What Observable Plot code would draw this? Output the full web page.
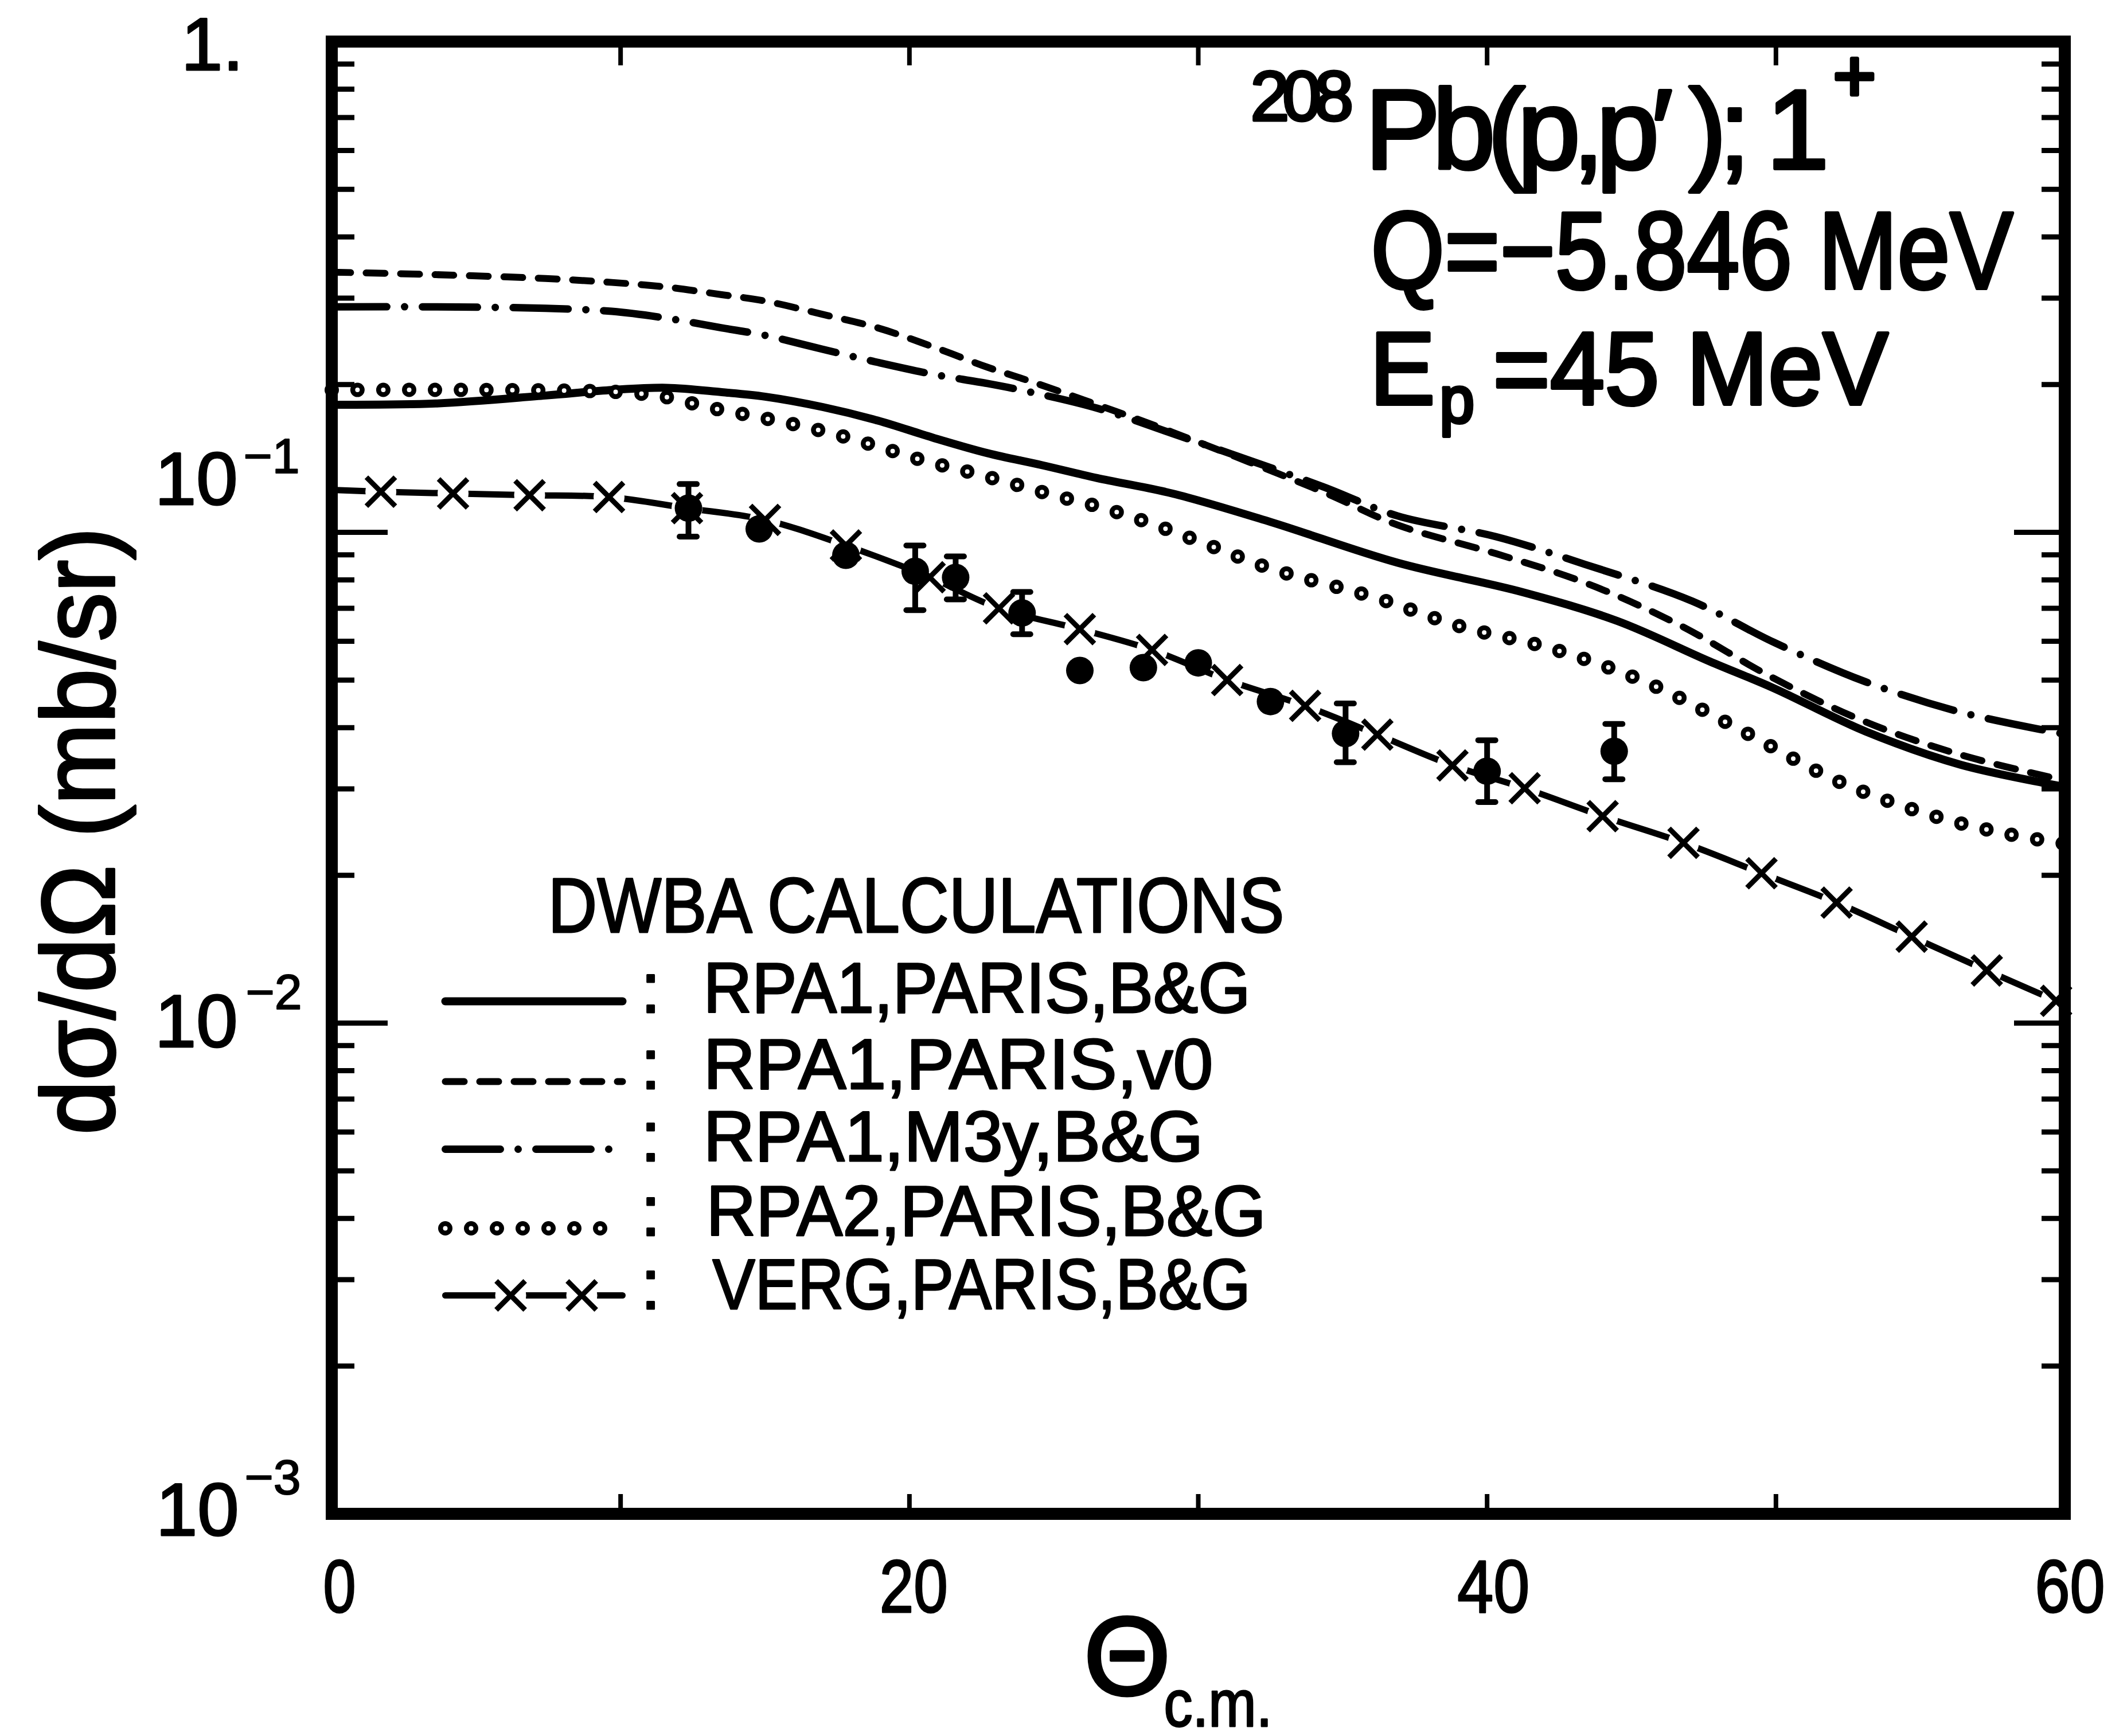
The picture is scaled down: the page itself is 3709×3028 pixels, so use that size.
<!DOCTYPE html>
<html>
<head>
<meta charset="utf-8">
<script src="https://cdn.jsdelivr.net/npm/d3@7"></script>
<script src="https://cdn.jsdelivr.net/npm/@observablehq/plot@0.6"></script>
<style>
  html, body { margin: 0; padding: 0; background: #fff; }
  #chart svg { display: block; }
</style>
</head>
<body>
<div id="chart"></div>
<script>
// ---------------- data ----------------
// RPA1, PARIS, B&G  (solid)
const thetaRPA1Paris = [0, 3.6, 7.4, 9.7, 11.6, 13.5, 15.0, 17.0, 18.9, 20.8, 22.7, 24.6, 26.5, 29.1, 32.5, 36.9, 41.2, 44.5, 47.7, 49.9, 53.1, 56.4, 60];
const sigmaRPA1Paris = [0.182, 0.183, 0.190, 0.195, 0.197, 0.193, 0.189, 0.180, 0.169, 0.156, 0.145, 0.137, 0.129, 0.120, 0.105, 0.0867, 0.0756, 0.066, 0.0546, 0.0482, 0.0393, 0.0336, 0.0303];
// RPA1, PARIS, v0  (dashed)
const thetaRPA1V0 = [0, 3.6, 7.4, 9.7, 11.6, 13.5, 15.0, 17.0, 18.9, 20.8, 22.7, 24.2, 26.5, 29.1, 34.3, 36.9, 40.3, 43.4, 46.6, 49.9, 53.1, 56.4, 60];
const sigmaRPA1V0 = [0.339, 0.335, 0.329, 0.323, 0.316, 0.305, 0.296, 0.278, 0.261, 0.239, 0.217, 0.203, 0.182, 0.160, 0.121, 0.1035, 0.0905, 0.0789, 0.065, 0.0505, 0.0411, 0.0352, 0.0312];
// RPA1, M3y, B&G  (dash-dot)
const thetaRPA1M3y = [0, 3.6, 7.4, 9.7, 11.6, 13.5, 15.0, 17.0, 18.9, 20.8, 22.7, 24.2, 26.5, 29.1, 34.3, 36.9, 40.3, 43.4, 47.1, 49.9, 53.1, 56.4, 60];
const sigmaRPA1M3y = [0.288, 0.288, 0.286, 0.282, 0.273, 0.261, 0.252, 0.236, 0.222, 0.210, 0.201, 0.193, 0.179, 0.159, 0.124, 0.108, 0.098, 0.086, 0.0724, 0.0598, 0.0496, 0.043, 0.0388];
// RPA2, PARIS, B&G  (dotted)
const thetaRPA2 = [0, 5, 10, 11.5, 13, 14.5, 16, 17.5, 19, 20.5, 22, 23.5, 25, 26.5, 28, 30, 32.5, 36.2, 39, 42.3, 45.6, 48.8, 52.1, 55.3, 58, 60];
const sigmaRPA2 = [0.195, 0.195, 0.193, 0.189, 0.180, 0.173, 0.166, 0.158, 0.149, 0.140, 0.133, 0.126, 0.119, 0.113, 0.106, 0.096, 0.0844, 0.0734, 0.0645, 0.0578, 0.0492, 0.0395, 0.0312, 0.0266, 0.0243, 0.0232];
// VERG, PARIS, B&G  (line with crosses)
const thetaVerg = [0, 1.7, 4.2, 6.85, 9.6, 12.3, 15.0, 17.8, 20.7, 23.1, 25.9, 28.4, 31.0, 33.7, 36.2, 38.8, 41.3, 44.0, 46.8, 49.5, 52.1, 54.7, 57.3, 59.7];
const sigmaVerg = [0.122, 0.121, 0.120, 0.119, 0.118, 0.112, 0.106, 0.094, 0.081, 0.070, 0.0635, 0.0576, 0.050, 0.0443, 0.0387, 0.0335, 0.0301, 0.0264, 0.0233, 0.0202, 0.0176, 0.0150, 0.0128, 0.0111];
// experimental points
const thetaExp = [12.35, 14.8, 17.8, 20.2, 21.6, 23.9, 25.9, 28.1, 30.0, 32.5, 35.1, 40.0, 44.4];
const sigmaExp = [0.112, 0.1016, 0.0898, 0.0833, 0.0809, 0.0685, 0.0523, 0.053, 0.0542, 0.0452, 0.0389, 0.0326, 0.0358];
const errLowExp = [0.098, null, null, 0.0694, 0.073, 0.062, null, null, null, null, 0.034, 0.0282, 0.0314];
const errHighExp = [0.1254, null, null, 0.094, 0.0893, 0.0756, null, null, null, null, 0.0448, 0.0377, 0.0407];

// ticks and labels
const xTickValues = [10, 20, 30, 40, 50];
const xTickLabels = [0, 20, 40, 60];
const yMinorTicks = [0.002, 0.003, 0.004, 0.005, 0.006, 0.007, 0.008, 0.009,
                     0.02, 0.03, 0.04, 0.05, 0.06, 0.07, 0.08, 0.09,
                     0.2, 0.3, 0.4, 0.5, 0.6, 0.7, 0.8, 0.9];
const yMajorTicks = [0.1, 0.01];
const yTickValues = [1, 0.1, 0.01, 0.001];
const yTickBase = ["1.", "10", "10", "10"];
const yTickExp = ["", "−1", "−2", "−3"];
const legendTitle = "DWBA CALCULATIONS";
const legendLabels = ["RPA1,PARIS,B&G", "RPA1,PARIS,v0", "RPA1,M3y,B&G", "RPA2,PARIS,B&G", "VERG,PARIS,B&G"];
const xTitle = "Θ";
const xTitleSub = "c.m.";
const yTitle = "dσ/dΩ (mb/sr)";
const reactionMass = "208";
const reactionText = "Pb(p,p′ ); 1";
const reactionSpin = "+";
const qText = "Q=−5.846 MeV";
const energyParts = ["E", "p", "=45 MeV"];

// ---------------- layout ----------------
const W = 3709, H = 3028;
const frameL = 578, frameR = 3600, frameT = 72, frameB = 2640;
const FONT = "'Liberation Sans', Arial, 'DejaVu Sans', sans-serif";
const xOf = px => (px - frameL) / (frameR - frameL) * 60;
const yOf = py => Math.pow(10, -3 * (py - frameT) / (frameB - frameT));
const ink = w => ({stroke: "black", strokeWidth: w, strokeLinejoin: "round", fill: "black"});

const rows = (t, s) => t.map((x, i) => ({theta: x, sigma: s[i]}));
const solidRows = rows(thetaRPA1Paris, sigmaRPA1Paris);
const dashedRows = rows(thetaRPA1V0, sigmaRPA1V0);
const dashdotRows = rows(thetaRPA1M3y, sigmaRPA1M3y);
const dottedRows = rows(thetaRPA2, sigmaRPA2);
const vergRows = rows(thetaVerg, sigmaVerg);
const vergMarks = vergRows.filter(d => d.theta > 0);
const expRows = thetaExp.map((t, i) => ({theta: t, sigma: sigmaExp[i], lo: errLowExp[i], hi: errHighExp[i]}));
const errRows = expRows.filter(d => d.lo != null);
const capRows = errRows.flatMap(d => [{theta: d.theta, v: d.lo}, {theta: d.theta, v: d.hi}]);
const capHalf = 15 / ((frameR - frameL) / 60);

const XY = {x: "theta", y: "sigma", curve: "catmull-rom"};
function lineMarks(data, kind) {
  if (kind === "solid") return [Plot.line(data, {...XY, stroke: "black", strokeWidth: 14})];
  if (kind === "dashed") return [Plot.line(data, {...XY, stroke: "black", strokeWidth: 12, strokeDasharray: "33 27", strokeLinecap: "round"})];
  if (kind === "dashdot") return [Plot.line(data, {...XY, stroke: "black", strokeWidth: 13, strokeDasharray: "96 31 0 31", strokeLinecap: "round"})];
  if (kind === "dotted") return [
    Plot.line(data, {...XY, stroke: "black", strokeWidth: 25, strokeDasharray: "0 45", strokeLinecap: "round"}),
    Plot.line(data, {...XY, stroke: "white", strokeWidth: 8, strokeDasharray: "0 45", strokeLinecap: "round"})
  ];
  return [Plot.line(data, {...XY, stroke: "black", strokeWidth: 11})];
}
function crossMarks(data) {
  return [
    Plot.dot(data, {x: "theta", y: "sigma", r: 27, fill: "white", stroke: null}),
    Plot.dot(data, {x: "theta", y: "sigma", r: 23, symbol: "times", stroke: "black", strokeWidth: 9})
  ];
}

// legend geometry
const legendKinds = ["solid", "dashed", "dashdot", "dotted", "verg"];
const legendTextY = [1725, 1858, 1984, 2114, 2242];
const legendSampleY = [1746, 1886, 2004, 2142, 2259];
const legendTextX = [1226, 1226, 1226, 1231, 1242];
const legendMarks = legendKinds.flatMap((k, i) => {
  const seg = [{theta: xOf(776), sigma: yOf(legendSampleY[i])}, {theta: xOf(1085), sigma: yOf(legendSampleY[i])}];
  const m = lineMarks(seg, k);
  if (k === "verg") m.push(...crossMarks([{theta: xOf(890), sigma: yOf(legendSampleY[i])}, {theta: xOf(1014), sigma: yOf(legendSampleY[i])}]));
  m.push(Plot.text([":"], {x: () => xOf(1134), y: () => yOf(legendTextY[i]), text: d => d, fontSize: 125, ...ink(3)}));
  m.push(Plot.text([legendLabels[i]], {x: () => xOf(legendTextX[i]), y: () => yOf(legendTextY[i]), text: d => d, textAnchor: "start", fontSize: 125, ...ink(3)}));
  return m;
});

// y tick labels ("10" and its exponent), placed by the log scale
const yLabelEnd = [424, 414, 414, 416];
const yLabelDy = [8, -90, 0, -4];
const ySupX = [425, 424, 428, 426];
const ySupDy = [0, -131, -52, -62];
const yLabelMarks = yTickValues.flatMap((v, i) => [
  Plot.text([v], {y: d => d, frameAnchor: "left", lineAnchor: "middle", dx: yLabelEnd[i] - frameL, dy: yLabelDy[i], text: () => yTickBase[i], textAnchor: "end", fontSize: 130, ...ink(3)}),
  Plot.text([v], {y: d => d, frameAnchor: "left", lineAnchor: "middle", dx: ySupX[i] - frameL, dy: ySupDy[i], text: () => yTickExp[i], textAnchor: "start", fontSize: 86, ...ink(2)})
]);

const chart = Plot.plot({
  width: W, height: H,
  marginLeft: frameL, marginRight: W - frameR, marginTop: frameT, marginBottom: H - frameB,
  x: {domain: [0, 60], axis: null},
  y: {type: "log", domain: [0.001, 1], axis: null},
  style: {fontFamily: FONT, background: "white", color: "black", overflow: "visible"},
  marks: [
    ...lineMarks(solidRows, "solid"),
    ...lineMarks(dashedRows, "dashed"),
    ...lineMarks(dashdotRows, "dashdot"),
    ...lineMarks(dottedRows, "dotted"),
    ...lineMarks(vergRows, "verg"),
    ...crossMarks(vergMarks),
    // experimental data
    Plot.ruleX(errRows, {x: "theta", y1: "lo", y2: "hi", stroke: "black", strokeWidth: 10}),
    Plot.ruleY(capRows, {y: "v", x1: d => d.theta - capHalf, x2: d => d.theta + capHalf, stroke: "black", strokeWidth: 10, strokeLinecap: "round"}),
    Plot.dot(expRows, {x: "theta", y: "sigma", r: 24, fill: "black"}),
    // frame and inward ticks
    Plot.frame({stroke: "black", strokeWidth: 21}),
    Plot.ruleY(yMinorTicks, {y: d => d, x1: 0, x2: xOf(frameL + 40), stroke: "black", strokeWidth: 9}),
    Plot.ruleY(yMajorTicks, {y: d => d, x1: 0, x2: xOf(frameL + 98), stroke: "black", strokeWidth: 9}),
    Plot.ruleY(yMinorTicks, {y: d => d, x1: xOf(frameR - 40), x2: 60, stroke: "black", strokeWidth: 9}),
    Plot.ruleY(yMajorTicks, {y: d => d, x1: xOf(frameR - 88), x2: 60, stroke: "black", strokeWidth: 9}),
    Plot.ruleX(xTickValues, {x: d => d, y1: 0.001, y2: yOf(frameB - 34), stroke: "black", strokeWidth: 8}),
    Plot.ruleX(xTickValues, {x: d => d, y1: yOf(frameT + 42), y2: 1, stroke: "black", strokeWidth: 8}),
    // axis labels
    ...yLabelMarks,
    Plot.text(xTickLabels.slice(0, 1), {x: d => d, text: d => String(d), frameAnchor: "bottom", lineAnchor: "middle", textAnchor: "start", dx: 13 - 28, dy: 130, fontSize: 130, ...ink(3)}),
    Plot.text(xTickLabels.slice(1), {x: d => d, text: d => String(d), frameAnchor: "bottom", lineAnchor: "middle", textAnchor: "start", dx: 8 - 60, dy: 130, fontSize: 130, ...ink(3)}),
    Plot.text([xTitle], {x: () => xOf(1965), frameAnchor: "bottom", lineAnchor: "middle", dy: 2893 - frameB, text: d => d, fontSize: 195, ...ink(5)}),
    Plot.text([xTitleSub], {x: () => xOf(2029), frameAnchor: "bottom", lineAnchor: "bottom", dy: 3010 - frameB, text: d => d, textAnchor: "start", fontSize: 115, ...ink(3)}),
    Plot.text([yTitle], {frameAnchor: "left", lineAnchor: "middle", y: () => yOf(1979), dx: 141 - frameL, rotate: -90, text: d => d, textAnchor: "start", fontSize: 180, ...ink(4)}),
    // annotation
    Plot.text([reactionMass], {x: () => xOf(2180), y: () => yOf(170), text: d => d, textAnchor: "start", fontSize: 122, ...ink(5)}),
    Plot.text([reactionText], {x: () => xOf(2380), y: () => yOf(293), text: d => d, textAnchor: "start", lineAnchor: "bottom", fontSize: 196, ...ink(6)}),
    Plot.text([reactionSpin], {x: () => xOf(3196), y: () => yOf(135), text: d => d, textAnchor: "start", fontSize: 128, ...ink(7)}),
    Plot.text([qText], {x: () => xOf(2390), y: () => yOf(441), text: d => d, textAnchor: "start", fontSize: 192, ...ink(6)}),
    Plot.text([energyParts.join("")], {x: () => xOf(2388), y: () => yOf(647), text: d => d, textAnchor: "start", fontSize: 180, ...ink(6)}),
    // legend
    Plot.text([legendTitle], {x: () => xOf(955), y: () => yOf(1582), text: d => d, textAnchor: "start", fontSize: 136, ...ink(3)}),
    ...legendMarks
  ]
});

// rich text: subscript as a tspan inside one text element
const SVGNS = "http://www.w3.org/2000/svg";
function setRich(el, parts, total) {
  el.textContent = "";
  for (const p of parts) {
    const t = document.createElementNS(SVGNS, "tspan");
    t.textContent = p.text;
    if (p.size) t.setAttribute("font-size", p.size);
    if (p.dx) t.setAttribute("dx", p.dx);
    if (p.dy) t.setAttribute("dy", p.dy);
    el.appendChild(t);
  }
  if (total) { el.setAttribute("textLength", total); el.setAttribute("lengthAdjust", "spacingAndGlyphs"); }
}
const fits = new Map([
  [legendTitle, 1284],
  [legendLabels[0], 954], [legendLabels[1], 889], [legendLabels[2], 872], [legendLabels[3], 976], [legendLabels[4], 938],
  [yTitle, 1060], [qText, 1120], [xTitleSub, 189],
  ["0", 57], ["20", 119], ["40", 126], ["60", 122]
]);
// tight lettering of the annotation (letter-spacing keeps glyph shapes and true extents)
const spacing = new Map([[reactionMass, -12], [reactionText, -13]]);
d3.select(chart).selectAll("text").each(function () {
  const s = this.textContent;
  if (s === energyParts.join("")) {
    setRich(this, [
      {text: energyParts[0], size: 180},
      {text: energyParts[1], size: 115, dx: 8, dy: 32},
      {text: energyParts[2], size: 180, dx: 34, dy: -32}
    ], 904);
  } else if (spacing.has(s)) {
    this.setAttribute("letter-spacing", spacing.get(s));
  } else if (fits.has(s)) {
    this.setAttribute("textLength", fits.get(s));
    this.setAttribute("lengthAdjust", "spacingAndGlyphs");
  }
});

document.getElementById("chart").appendChild(chart);
</script>
</body>
</html>
